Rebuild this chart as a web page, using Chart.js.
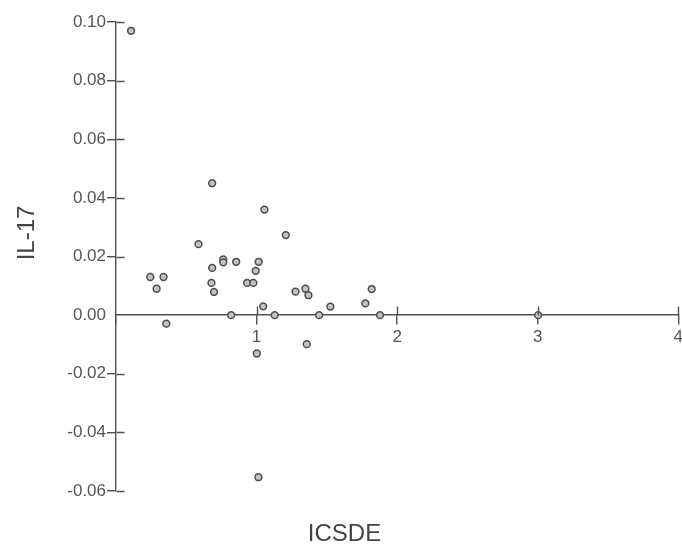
<!DOCTYPE html>
<html>
<head>
<meta charset="utf-8">
<script src="https://cdn.jsdelivr.net/npm/chart.js@4/dist/chart.umd.min.js"></script>
<style>
  html, body { margin: 0; padding: 0; background: #fff; overflow: hidden; }
  canvas { display: block; }
</style>
</head>
<body>
<!-- el lienzo es un poco más ancho que la ventana: la etiqueta "4" queda cortada como en el original -->
<canvas id="grafica" width="686" height="546"></canvas>
<script>
// Valores (ICSDE vs IL-17)
const valoresICSDE = [
  0.107, 0.684, 1.056, 1.208, 0.587, 0.763, 0.763, 0.855, 1.015, 0.994,
  0.684, 0.244, 0.338, 0.289, 0.679, 0.697, 0.933, 0.977, 1.047, 0.819,
  1.129, 0.358, 1.277, 1.348, 1.369, 1.445, 1.525, 1.774, 1.819, 1.878,
  1.357, 1.002, 1.013, 3.003
];
const valoresIL17 = [
  0.0970, 0.0450, 0.0360, 0.0273, 0.0242, 0.0190, 0.0180, 0.0182, 0.0182, 0.0151,
  0.0161, 0.0130, 0.0130, 0.0090, 0.0110, 0.0079, 0.0110, 0.0110, 0.0030, 0.0000,
  0.0000, -0.0029, 0.0080, 0.0090, 0.0068, 0.0000, 0.0029, 0.0040, 0.0089, 0.0000,
  -0.0099, -0.0131, -0.0553, 0.0000
];
const limitesX = [0, 4];
const limitesY = [-0.06, 0.10];
const pasoX = 1;
const pasoY = 0.02;

const fuente = '"Liberation Sans", Arial, sans-serif';
const colorEje = '#505050';
const colorTexto = '#555';
const colorTitulo = '#444';
const grosorEje = 1.4;

// Dibuja la parte interior de las marcas (cruzan el eje) y los títulos de los ejes
const marcasCruzadas = {
  id: 'marcasCruzadas',
  afterDraw(chart) {
    const { ctx, scales: { x, y } } = chart;
    const origenX = Math.round(x.getPixelForValue(0)) + 0.5;
    const origenY = Math.round(y.getPixelForValue(0)) + 0.5;
    ctx.save();
    ctx.strokeStyle = colorEje;
    ctx.lineWidth = grosorEje;
    ctx.beginPath();
    y.ticks.forEach(t => {
      if (Math.abs(t.value) < 1e-9) return;
      const py = Math.round(y.getPixelForValue(t.value)) + 0.5;
      ctx.moveTo(origenX, py);
      ctx.lineTo(origenX + 8, py);
    });
    x.ticks.forEach(t => {
      if (t.value === 0) return;
      const px = Math.round(x.getPixelForValue(t.value)) + 0.5;
      ctx.moveTo(px, origenY - 9);
      ctx.lineTo(px, origenY);
    });
    ctx.stroke();

    ctx.font = '24px ' + fuente;
    ctx.fillStyle = colorTitulo;
    ctx.textAlign = 'center';
    ctx.textBaseline = 'middle';

    // título del eje x
    ctx.fillText('ICSDE', 344.5, 534);

    // título del eje y
    ctx.translate(27, 233);
    ctx.rotate(-Math.PI / 2);
    ctx.fillText('IL-17', 0, 0);
    ctx.restore();
  }
};

const datos = valoresICSDE.map((v, i) => ({ x: v, y: valoresIL17[i] }));

new Chart(document.getElementById('grafica'), {
  type: 'scatter',
  data: {
    datasets: [{
      label: 'IL-17',
      data: datos,
      pointRadius: 3.4,
      pointBackgroundColor: '#c2c2c2',
      pointBorderColor: '#4d4d4d',
      pointBorderWidth: 1.5,
      clip: false
    }]
  },
  options: {
    responsive: false,
    animation: false,
    layout: {
      autoPadding: false,
      padding: { top: 22, right: 7, bottom: 55, left: 0 }
    },
    plugins: {
      legend: { display: false },
      tooltip: { enabled: false }
    },
    scales: {
      x: {
        type: 'linear',
        position: { y: 0 },
        min: limitesX[0],
        max: limitesX[1],
        ticks: {
          stepSize: pasoX,
          maxRotation: 0,
          color: colorTexto,
          padding: 3,
          font: { family: fuente, size: 17 },
          callback: v => (v === 0 ? '' : v)
        },
        grid: {
          drawOnChartArea: false,
          drawTicks: true,
          tickLength: 9,
          lineWidth: grosorEje,
          color: colorEje
        },
        border: { display: true, color: colorEje, width: grosorEje }
      },
      y: {
        type: 'linear',
        position: 'left',
        min: limitesY[0],
        max: limitesY[1],
        ticks: {
          stepSize: pasoY,
          color: colorTexto,
          padding: 1,
          font: { family: fuente, size: 17 },
          callback: v => (Math.abs(v) < 1e-9 ? 0 : v).toFixed(2)
        },
        grid: {
          drawOnChartArea: false,
          drawTicks: true,
          tickLength: 9,
          lineWidth: grosorEje,
          color: ctx => (ctx.tick && Math.abs(ctx.tick.value) < 1e-9 ? 'rgba(0,0,0,0)' : colorEje)
        },
        border: { display: true, color: colorEje, width: grosorEje },
        afterFit: escala => { escala.width = 116; }
      }
    }
  },
  plugins: [marcasCruzadas]
});
</script>
</body>
</html>
